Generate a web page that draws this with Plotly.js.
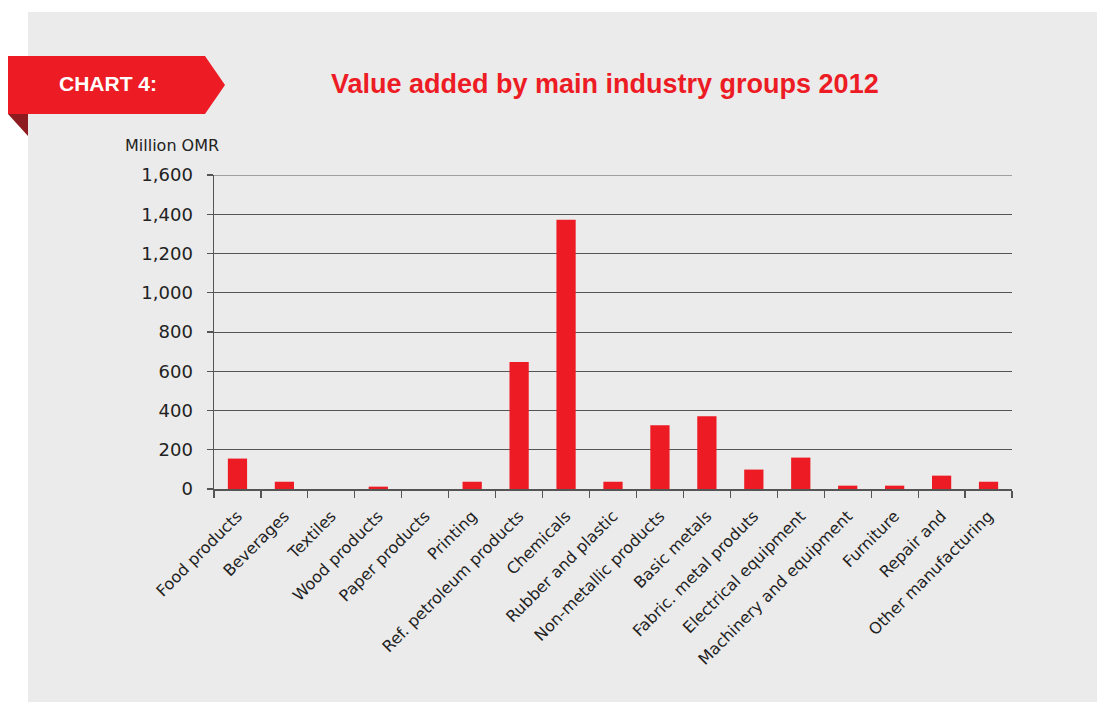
<!DOCTYPE html>
<html>
<head>
<meta charset="utf-8">
<script src="https://cdn.plot.ly/plotly-3.0.1.min.js"></script>
<style>
html,body{margin:0;padding:0;background:#ffffff;}
#chart{width:1098px;height:702px;}
</style>
</head>
<body>
<div id="chart"></div>
<script>
const categories = ["Food products","Beverages","Textiles","Wood products","Paper products","Printing","Ref. petroleum products","Chemicals","Rubber and plastic","Non-metallic products","Basic metals","Fabric. metal produts","Electrical equipment","Machinery and equipment","Furniture","Repair and","Other manufacturing"];
const values = [155, 37, 0, 12, 0, 37, 647, 1372, 37, 325, 371, 99, 160, 17, 17, 68, 37];
const yTicks = [0,200,400,600,800,1000,1200,1400,1600];

const L = 214, R = 1012, T = 175, B = 489, W = 1098, H = 702;
const px = x => (x - L) / (R - L);
const py = y => (B - y) / (B - T);
const path = pts => pts.map((p,i)=> (i?'L':'M') + px(p[0]) + ',' + py(p[1])).join(' ') + ' Z';

const RED = '#ed1c24';
const FONT = 'DejaVu Sans, sans-serif';
const yMax = yTicks[yTicks.length - 1];

const trace = {
  type: 'bar',
  x: categories,
  y: values,
  marker: {color: RED},
  hoverinfo: 'x+y'
};

const layout = {
  width: W, height: H,
  margin: {l: L, r: W - R, t: T, b: H - B},
  paper_bgcolor: '#ffffff',
  plot_bgcolor: 'rgba(0,0,0,0)',
  bargap: 0.59,
  showlegend: false,
  font: {family: FONT, color: '#222'},
  xaxis: {
    type: 'category',
    tickson: 'boundaries',
    ticks: 'outside', ticklen: 7, tickcolor: '#555', tickwidth: 1.2,
    showline: true, linecolor: '#555', linewidth: 1.5,
    showgrid: false,
    tickangle: -45,
    ticklabelstandoff: 10,
    tickfont: {family: FONT, size: 16, color: '#222'},
    automargin: false
  },
  yaxis: {
    range: [0, yMax],
    tickvals: yTicks,
    tickformat: ',',
    ticks: 'outside', ticklen: 6, tickcolor: '#555', tickwidth: 1.2,
    showline: true, linecolor: '#555', linewidth: 1.5,
    showgrid: true, gridcolor: '#555', gridwidth: 1,
    zeroline: false,
    ticklabelstandoff: 10,
    tickfont: {family: FONT, size: 18, color: '#222'},
    automargin: false
  },
  shapes: [
    {type: 'rect', xref: 'paper', yref: 'paper', layer: 'below',
     x0: px(28), x1: px(1097), y0: py(702), y1: py(12),
     fillcolor: '#ebebeb', line: {width: 0}},
    {type: 'line', xref: 'paper', yref: 'y', layer: 'below',
     x0: 0, x1: 1, y0: yMax, y1: yMax,
     line: {color: '#555', width: 1}},
    {type: 'path', xref: 'paper', yref: 'paper', layer: 'above',
     path: path([[8,56],[205,56],[225,85],[205,114],[8,114]]),
     fillcolor: RED, line: {width: 0}},
    {type: 'path', xref: 'paper', yref: 'paper', layer: 'above',
     path: path([[8,114],[28,114],[28,136]]),
     fillcolor: '#8e1b1f', line: {width: 0}}
  ],
  annotations: [
    {xref: 'paper', yref: 'paper', x: px(108), y: py(84), text: '<b>CHART 4:</b>',
     showarrow: false, xanchor: 'center', yanchor: 'middle',
     font: {family: 'Liberation Sans, Arial, sans-serif', size: 21, color: '#ffffff'}},
    {xref: 'paper', yref: 'paper', x: px(605), y: py(84), text: '<b>Value added by main industry groups 2012</b>',
     showarrow: false, xanchor: 'center', yanchor: 'middle',
     font: {family: 'Liberation Sans, Arial, sans-serif', size: 27, color: RED}},
    {xref: 'paper', yref: 'paper', x: px(123), y: py(145), text: 'Million OMR',
     showarrow: false, xanchor: 'left', yanchor: 'middle',
     font: {family: FONT, size: 16, color: '#222'}}
  ]
};

Plotly.newPlot('chart', [trace], layout, {displayModeBar: false, staticPlot: true});
</script>
</body>
</html>
